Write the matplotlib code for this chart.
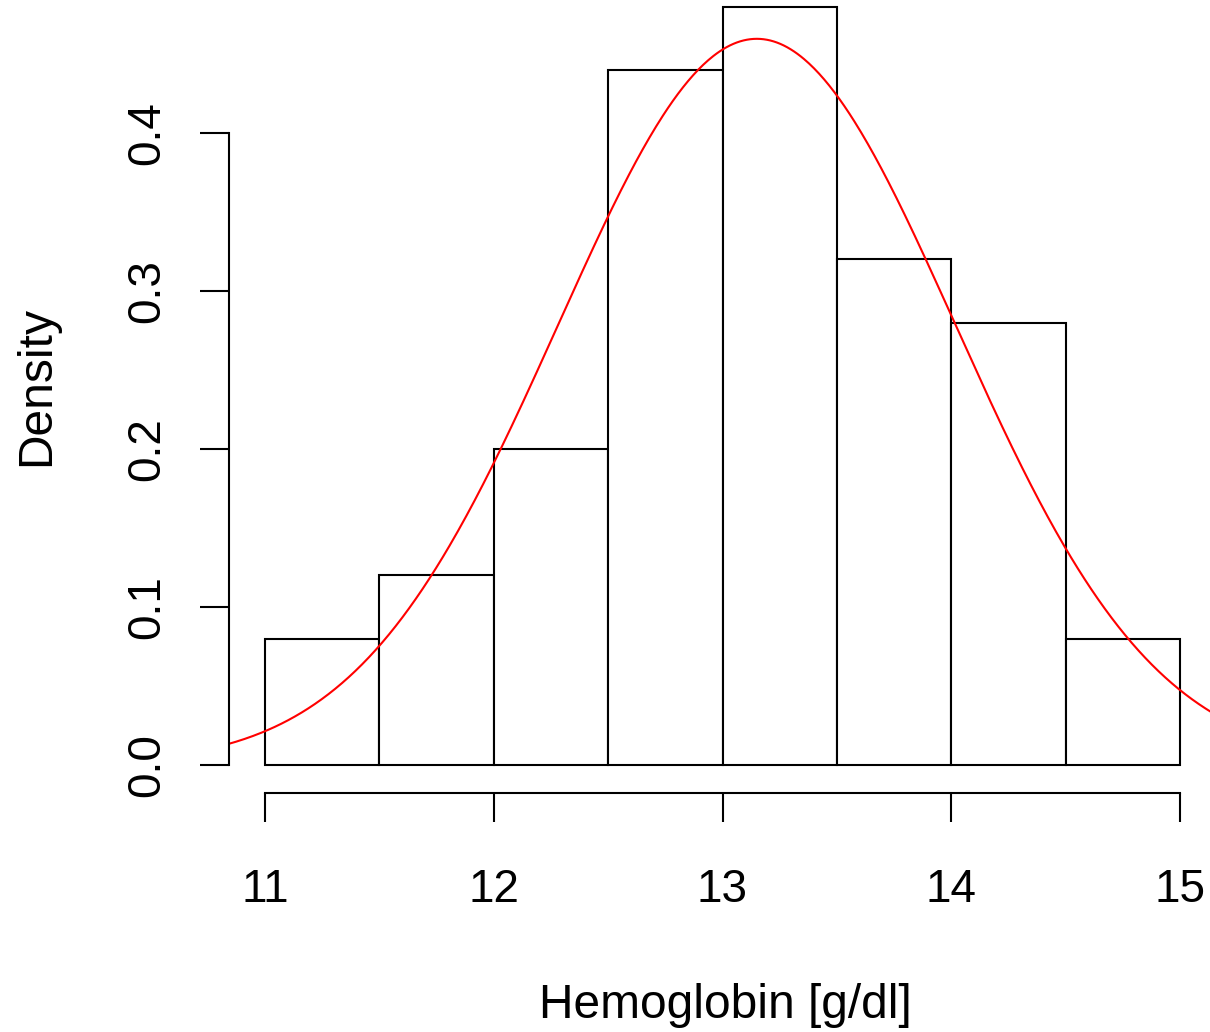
import numpy as np
import matplotlib
matplotlib.use('Agg')
import matplotlib.pyplot as plt

plt.rcParams['font.family'] = ['Liberation Sans', 'DejaVu Sans']

# histogram bins (g/dl) and densities
bin_edges = [11.0, 11.5, 12.0, 12.5, 13.0, 13.5, 14.0, 14.5, 15.0]
densities = [0.08, 0.12, 0.20, 0.44, 0.48, 0.32, 0.28, 0.08]

# fitted normal curve
mu = 13.15
sd = 0.868

xticks = [11, 12, 13, 14, 15]
yticks = [0.0, 0.1, 0.2, 0.3, 0.4]

W, H = 1210, 1032
fig = plt.figure(figsize=(W / 100, H / 100), dpi=100)
ax = fig.add_axes([229 / W, (H - 765) / H, 1 - 229 / W, 765 / H])

ax.set_xlim(11 - 36 / 228.75, 15 + 30 / 228.75)
ax.set_ylim(0, 765 / 1580)

widths = np.diff(bin_edges)
ax.bar(bin_edges[:-1], densities, width=widths, align='edge',
       facecolor='white', edgecolor='black', linewidth=1.5, clip_on=False)

xs = np.linspace(10.8, 15.2, 600)
ys = np.exp(-0.5 * ((xs - mu) / sd) ** 2) / (sd * np.sqrt(2 * np.pi))
ax.plot(xs, ys, color='red', linewidth=1.5)

for s in ['top', 'right']:
    ax.spines[s].set_visible(False)
ax.spines['left'].set_bounds(0, 0.4)
ax.spines['bottom'].set_bounds(11, 15)
ax.spines['bottom'].set_position(('outward', 20.5))
ax.spines['left'].set_linewidth(1.5)
ax.spines['bottom'].set_linewidth(1.5)

ax.set_xticks(xticks)
ax.set_xticklabels([str(t) for t in xticks])
ax.set_yticks(yticks)
ax.set_yticklabels([f'{t:.1f}' for t in yticks], rotation=90, va='center')
ax.tick_params(axis='both', direction='out', length=21, width=1.5,
               labelsize=33)
ax.tick_params(axis='x', pad=33)
ax.tick_params(axis='y', pad=22)

fig.text(725 / W, 1 - 1005 / H, 'Hemoglobin [g/dl]', fontsize=34.5,
         ha='center', va='center')
fig.text(37 / W, 1 - 386 / H, 'Density', fontsize=34.5, rotation=90,
         ha='center', va='center')

fig.savefig('out.png', dpi=100)
